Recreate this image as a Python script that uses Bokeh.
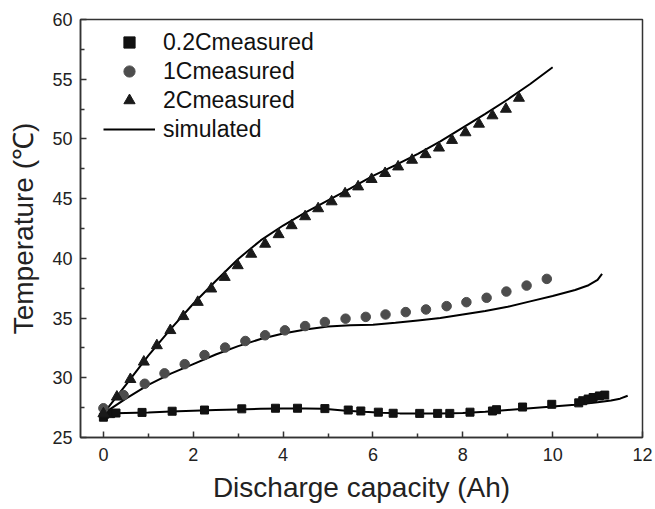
from bokeh.plotting import figure
from bokeh.models import Range1d, Legend, LegendItem, FixedTicker
from bokeh.embed import file_html
from bokeh.resources import INLINE

# ---- data ----
sq_x = [0, 0.03, 0.16, 0.28, 0.86, 1.53, 2.25, 3.08, 3.83, 4.32, 4.93, 5.45, 5.73, 6.12, 6.45,
        7.04, 7.44, 7.71, 8.16, 8.66, 8.75, 9.33, 9.98, 10.58, 10.67, 10.79, 10.9, 11.04, 11.16]
sq_y = [26.7, 26.95, 27.0, 27.05, 27.1, 27.2, 27.3, 27.4, 27.45, 27.45, 27.42, 27.3, 27.22, 27.12, 27.03,
        27.02, 27.02, 27.02, 27.12, 27.22, 27.33, 27.55, 27.78, 27.9, 28.08, 28.22, 28.35, 28.48, 28.55]

ci_x = [0, 0.45, 0.92, 1.36, 1.81, 2.25, 2.71, 3.16, 3.6, 4.04, 4.49, 4.93, 5.39, 5.84, 6.28,
        6.73, 7.18, 7.64, 8.08, 8.53, 8.97, 9.42, 9.87]
ci_y = [27.45, 28.55, 29.5, 30.37, 31.14, 31.9, 32.53, 33.08, 33.56, 33.97, 34.33, 34.67, 34.95, 35.1, 35.3,
        35.5, 35.72, 36.0, 36.33, 36.7, 37.22, 37.72, 38.28]

tr_x = [0, 0.3, 0.6, 0.9, 1.19, 1.49, 1.78, 2.1, 2.4, 2.7, 2.99, 3.29, 3.6, 3.9, 4.19, 4.49,
        4.78, 5.08, 5.38, 5.67, 5.97, 6.27, 6.56, 6.87, 7.17, 7.47, 7.76, 8.06, 8.36, 8.66, 8.96, 9.25]
tr_y = [27.0, 28.4, 29.87, 31.33, 32.7, 33.97, 35.14, 36.33, 37.45, 38.42, 39.4, 40.36, 41.2, 42.0, 42.75, 43.5,
        44.17, 44.75, 45.42, 46.0, 46.62, 47.12, 47.67, 48.23, 48.7, 49.25, 49.89, 50.53, 51.25, 51.95, 52.5, 53.42]

sim02_x = [0, 0.5, 1, 1.5, 2, 2.5, 3, 3.5, 4, 4.5, 4.9, 5.4, 5.8, 6.2, 6.6, 7, 7.5, 8, 8.5, 9,
           9.5, 10, 10.5, 11, 11.3, 11.5, 11.67]
sim02_y = [27.0, 27.05, 27.1, 27.18, 27.25, 27.3, 27.35, 27.4, 27.43, 27.43, 27.4, 27.25, 27.15, 27.08, 27.02,
           27.0, 27.0, 27.05, 27.15, 27.3, 27.45, 27.6, 27.75, 27.95, 28.1, 28.25, 28.5]

sim1_x = [0, 0.5, 1, 1.5, 2, 2.5, 3, 3.5, 4, 4.5, 5, 5.5, 6, 6.5, 7, 7.5, 8, 8.5, 9, 9.5, 10,
          10.5, 10.8, 11.0, 11.1]
sim1_y = [27.0, 28.25, 29.4, 30.35, 31.15, 31.95, 32.65, 33.25, 33.7, 34.05, 34.3, 34.4, 34.45, 34.6, 34.8,
          35.0, 35.3, 35.6, 35.95, 36.4, 36.85, 37.35, 37.75, 38.2, 38.7]

sim2_x = [0, 0.5, 1, 1.5, 2, 2.5, 3, 3.5, 4, 4.5, 5, 5.5, 6, 6.5, 7, 7.5, 8, 8.5, 9, 9.5, 10]
sim2_y = [27.0, 29.4, 31.85, 34.1, 36.2, 38.1, 39.95, 41.5, 42.75, 43.85, 44.85, 45.85, 46.9, 47.8, 48.75,
          49.8, 50.95, 52.1, 53.3, 54.6, 56.0]

x_ticks = [0, 2, 4, 6, 8, 10, 12]
y_ticks = [25, 30, 35, 40, 45, 50, 55, 60]
labels = ["0.2Cmeasured", "1Cmeasured", "2Cmeasured", "simulated"]

FONT = "Liberation Sans"
W, H = 655, 509
B_LEFT, B_RIGHT, B_TOP, B_BOTTOM = 80, 13, 19, 72

p = figure(width=W, height=H, output_backend="svg", toolbar_location=None,
           x_range=Range1d(-0.51, 12), y_range=Range1d(25, 60),
           min_border_left=B_LEFT, min_border_right=B_RIGHT,
           min_border_top=B_TOP, min_border_bottom=B_BOTTOM)

p.xgrid.visible = False
p.ygrid.visible = False
p.outline_line_color = "#333333"
p.outline_line_width = 1.5
p.background_fill_color = "white"
p.border_fill_color = "white"

for ax in (p.xaxis[0], p.yaxis[0]):
    ax.axis_line_color = "#333333"
    ax.axis_line_width = 1.5
    ax.major_tick_line_color = "#333333"
    ax.minor_tick_line_color = "#333333"
    ax.major_tick_line_width = 1.5
    ax.minor_tick_line_width = 1.5
    ax.major_tick_in = 6
    ax.major_tick_out = 0
    ax.minor_tick_in = 4
    ax.minor_tick_out = 0
    ax.major_label_text_font = FONT
    ax.major_label_text_font_size = "18px"
    ax.major_label_text_color = "#222222"
    ax.axis_label_text_font = FONT
    ax.axis_label_text_font_size = "28px"
    ax.axis_label_text_font_style = "normal"
    ax.axis_label_text_color = "#222222"

p.xaxis.ticker = FixedTicker(ticks=x_ticks, minor_ticks=[1, 3, 5, 7, 9, 11])
p.yaxis.ticker = FixedTicker(ticks=y_ticks, minor_ticks=[27.5, 32.5, 37.5, 42.5, 47.5, 52.5, 57.5])
p.xaxis.axis_label = "Discharge capacity (Ah)"
p.yaxis.axis_label = "Temperature (℃)"
p.xaxis.major_label_standoff = 10
p.yaxis.major_label_standoff = 8
p.xaxis.axis_label_standoff = 8
p.yaxis.axis_label_standoff = 10

l1 = p.line(sim02_x, sim02_y, line_color="black", line_width=2)
l2 = p.line(sim1_x, sim1_y, line_color="black", line_width=2)
l3 = p.line(sim2_x, sim2_y, line_color="black", line_width=2)

r_sq = p.scatter(sq_x, sq_y, marker="square", size=8, fill_color="#111111", line_color="#111111")
r_ci = p.scatter(ci_x, ci_y, marker="circle", size=9.5, fill_color="#4d4d4d", line_color="#4d4d4d")
r_tr = p.scatter(tr_x, tr_y, marker="triangle", size=11, fill_color="#1a1a1a", line_color="#1a1a1a")

frame_h = H - B_TOP - B_BOTTOM
legend = Legend(items=[
    LegendItem(label=labels[0], renderers=[r_sq]),
    LegendItem(label=labels[1], renderers=[r_ci]),
    LegendItem(label=labels[2], renderers=[r_tr]),
    LegendItem(label=labels[3], renderers=[l1]),
], location=(23, frame_h - 124))
legend.margin = 0
legend.padding = 0
legend.spacing = 1
legend.glyph_width = 52
legend.glyph_height = 28
legend.label_height = 28
legend.label_standoff = 8
legend.label_text_font = FONT
legend.label_text_font_size = "23px"
legend.label_text_color = "#111111"
legend.border_line_color = None
legend.background_fill_alpha = 0
p.add_layout(legend, "center")

open("out.html", "w").write(file_html(p, INLINE))
